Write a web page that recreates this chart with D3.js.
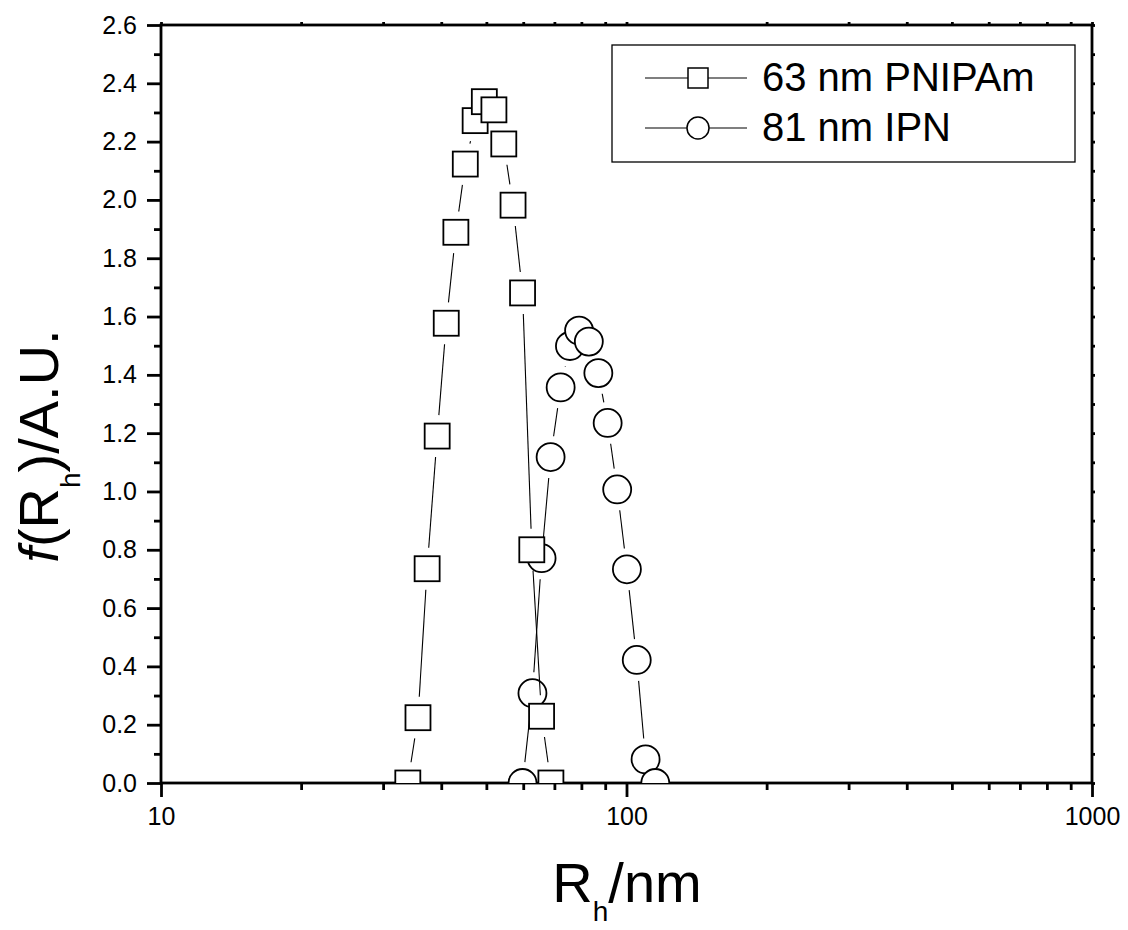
<!DOCTYPE html>
<html>
<head>
<meta charset="utf-8">
<script src="https://cdn.jsdelivr.net/npm/d3@7"></script>
<style>
  html, body { margin: 0; padding: 0; background: #fff; }
  svg { display: block; font-family: "Liberation Sans", Arial, sans-serif; }
</style>
</head>
<body>
<svg id="chart" width="1128" height="930"></svg>
<script>
// ---- Data ----
const pnipamR = [33.9, 35.65, 37.3, 39.2, 41.0, 43.0, 45.05, 47.3, 49.5, 51.9, 54.5, 57.05, 59.8, 62.6, 65.7, 68.8];
const pnipamF = [0.0, 0.224, 0.735, 1.19, 1.577, 1.889, 2.123, 2.272, 2.337, 2.309, 2.192, 1.982, 1.681, 0.800, 0.229, 0.0];
const ipnR = [59.8, 62.8, 65.7, 68.7, 72.2, 75.6, 79.1, 83.0, 87.0, 91.1, 95.5, 100.2, 105.2, 109.9, 115.3];
const ipnF = [0.0, 0.308, 0.771, 1.118, 1.357, 1.499, 1.552, 1.514, 1.406, 1.235, 1.007, 0.733, 0.422, 0.081, 0.0];
const seriesNames = ["63 nm PNIPAm", "81 nm IPN"];
const yTickValues = [0, 0.2, 0.4, 0.6, 0.8, 1.0, 1.2, 1.4, 1.6, 1.8, 2.0, 2.2, 2.4, 2.6];
const xTickValues = [10, 100, 1000];

// ---- Layout ----
const L = 161, R = 1092, T = 25, B = 783;
const svg = d3.select("#chart");
const x = d3.scaleLog().domain([10, 1000]).range([L, R]);
const y = d3.scaleLinear().domain([0, 2.6]).range([B, T]);

svg.append("defs").append("clipPath").attr("id", "plotclip")
  .append("rect").attr("x", L).attr("y", T).attr("width", R - L).attr("height", B - T);

// minor values
const xMinor = [];
for (let d = 10; d < 1000; d *= 10) for (let k = 2; k <= 9; k++) xMinor.push(k * d);
const yMinor = d3.range(1, 26, 2).map(v => v / 10);

// ---- Axes ----
const axisG = svg.append("g");
axisG.append("g").attr("transform", `translate(0,${B})`)
  .call(d3.axisBottom(x).tickValues(xTickValues).tickSize(14).tickPadding(10).tickFormat(d3.format("d")));
axisG.append("g").attr("transform", `translate(0,${B})`)
  .call(d3.axisBottom(x).tickValues(xMinor).tickSize(7).tickFormat(""));
axisG.append("g").attr("transform", `translate(${L},0)`)
  .call(d3.axisLeft(y).tickValues(yTickValues).tickSize(14).tickPadding(10).tickFormat(d3.format(".1f")));
axisG.append("g").attr("transform", `translate(${L},0)`)
  .call(d3.axisLeft(y).tickValues(yMinor).tickSize(7).tickFormat(""));
axisG.append("g").attr("transform", `translate(${R},0)`)
  .call(d3.axisRight(y).tickValues(yTickValues.concat(yMinor)).tickSize(3).tickFormat(""));
axisG.append("g").attr("transform", `translate(0,${T})`)
  .call(d3.axisTop(x).tickValues(xTickValues.concat(xMinor)).tickSize(3).tickFormat(""));

axisG.selectAll(".domain").remove();
axisG.selectAll(".tick line").attr("stroke", "#000").attr("stroke-width", 2.8);
axisG.selectAll(".tick text").attr("fill", "#000").style("font-size", "25px")
  .style("font-family", '"Liberation Sans", Arial, sans-serif');

// frame
svg.append("rect").attr("x", L).attr("y", T).attr("width", R - L).attr("height", B - T)
  .attr("fill", "none").attr("stroke", "#000").attr("stroke-width", 2.8);

// ---- Series ----
const plot = svg.append("g").attr("clip-path", "url(#plotclip)");
const GAP = 21;
function drawSeries(xs, ys, shape) {
  const pts = xs.map((v, i) => [x(v), y(ys[i])]);
  const g = plot.append("g");
  for (let i = 0; i < pts.length - 1; i++) {
    const [x1, y1] = pts[i], [x2, y2] = pts[i + 1];
    const dx = x2 - x1, dy = y2 - y1, len = Math.hypot(dx, dy);
    if (len <= 2 * GAP) continue;
    const ux = dx / len, uy = dy / len;
    g.append("line")
      .attr("x1", x1 + ux * GAP).attr("y1", y1 + uy * GAP)
      .attr("x2", x2 - ux * GAP).attr("y2", y2 - uy * GAP)
      .attr("stroke", "#000").attr("stroke-width", 1.1);
  }
  pts.forEach(([px, py]) => {
    if (shape === "square") {
      g.append("rect").attr("x", px - 12.5).attr("y", py - 12.5).attr("width", 25).attr("height", 25)
        .attr("fill", "#fff").attr("stroke", "#000").attr("stroke-width", 1.8);
    } else {
      g.append("circle").attr("cx", px).attr("cy", py).attr("r", 14)
        .attr("fill", "#fff").attr("stroke", "#000").attr("stroke-width", 1.8);
    }
  });
}
drawSeries(ipnR, ipnF, "circle");
drawSeries(pnipamR, pnipamF, "square");

// ---- Legend ----
const lg = svg.append("g");
lg.append("rect").attr("x", 612).attr("y", 45).attr("width", 463).attr("height", 117)
  .attr("fill", "#fff").attr("stroke", "#000").attr("stroke-width", 1.3);
[0, 1].forEach(i => {
  const cy = 78 + i * 50;
  lg.append("line").attr("x1", 645).attr("x2", 747).attr("y1", cy).attr("y2", cy)
    .attr("stroke", "#000").attr("stroke-width", 1.1);
  if (i === 0) {
    lg.append("rect").attr("x", 688).attr("y", cy - 10).attr("width", 20).attr("height", 20)
      .attr("fill", "#fff").attr("stroke", "#000").attr("stroke-width", 1.5);
  } else {
    lg.append("circle").attr("cx", 698).attr("cy", cy).attr("r", 11)
      .attr("fill", "#fff").attr("stroke", "#000").attr("stroke-width", 1.5);
  }
  lg.append("text").attr("x", 762).attr("y", cy + 13).style("font-size", "40px")
    .attr("fill", "#000").text(seriesNames[i]);
});

// ---- Axis titles ----
const xt = svg.append("text").attr("x", 627).attr("y", 902).attr("text-anchor", "middle")
  .style("font-size", "56px").attr("fill", "#000");
xt.append("tspan").text("R");
xt.append("tspan").attr("dy", 19).style("font-size", "28px").text("h");
xt.append("tspan").attr("dy", -19).text("/nm");

const yt = svg.append("text").attr("transform", "translate(58,446) rotate(-90)")
  .attr("text-anchor", "middle").style("font-size", "56px").attr("fill", "#000");
yt.append("tspan").style("font-style", "italic").text("f");
yt.append("tspan").text("(R");
yt.append("tspan").attr("dy", 22).style("font-size", "28px").text("h");
yt.append("tspan").attr("dy", -22).text(")/A.U.");
</script>
</body>
</html>
